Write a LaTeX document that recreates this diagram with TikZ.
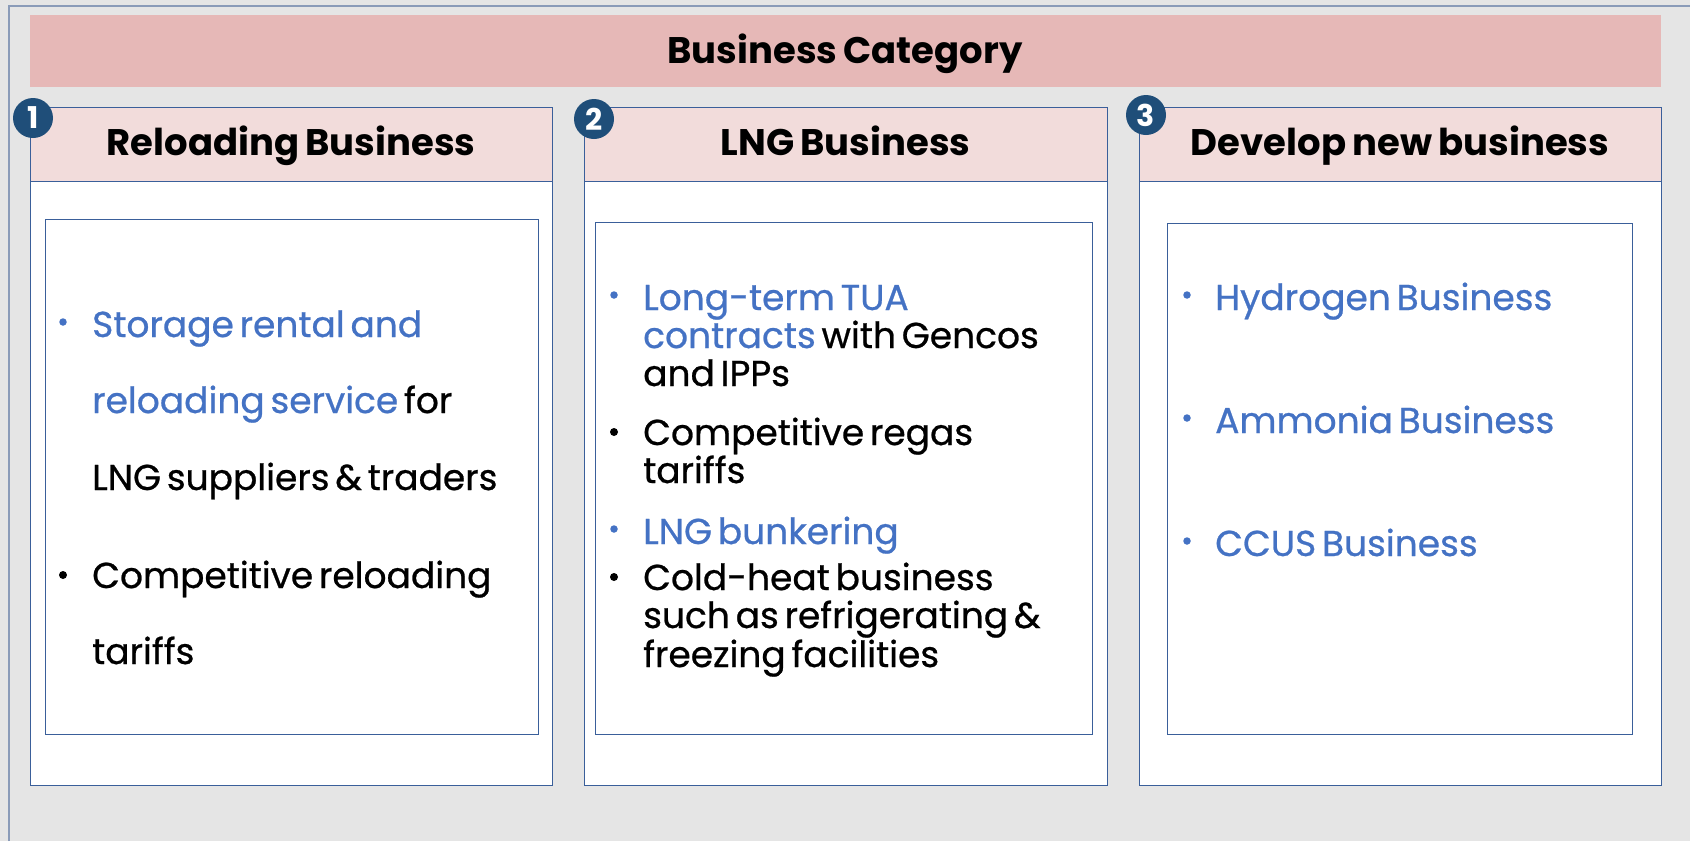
\documentclass[tikz,border=0pt]{standalone}
\usepackage{fontspec}
\setmainfont{Poppins}[WordSpace=0.8]
\newfontfamily\bodyfont{Poppins}[WordSpace=0.6, FakeBold=0.7]
\definecolor{bg}{HTML}{E5E5E5}
\definecolor{frameline}{HTML}{8A9BB8}
\definecolor{boxline}{HTML}{3A5F9A}
\definecolor{banner}{HTML}{E6B8B7}
\definecolor{headfill}{HTML}{F2DCDB}
\definecolor{txtblue}{HTML}{4472C4}
\definecolor{badge}{HTML}{1F4E79}
\tikzset{
  outerbox/.style={draw=boxline, line width=1.3pt, fill=white, anchor=north west, inner sep=0pt},
  headbox/.style={draw=boxline, line width=1.3pt, fill=headfill, anchor=north west, inner sep=0pt},
  innerbox/.style={draw=boxline, line width=1.3pt, fill=white, anchor=north west, inner sep=0pt},
  headtxt/.style={anchor=base, inner sep=0pt, font=\fontsize{37}{40}\selectfont\bfseries},
  bodytxt/.style={anchor=base west, inner sep=0pt, font=\bodyfont\fontsize{36}{40}\selectfont},
  bluetxt/.style={bodytxt, text=txtblue},
  bulb/.style={circle, fill=txtblue, inner sep=0pt, minimum size=7.5pt},
  bulk/.style={circle, fill=black, inner sep=0pt, minimum size=8pt},
  badgestyle/.style={circle, fill=badge, text=white, inner sep=0pt, minimum size=40pt, font=\fontsize{30}{30}\selectfont\bfseries},
}
\begin{document}
\begin{tikzpicture}[x=1pt,y=-1pt]
\useasboundingbox (0,0) rectangle (1690,841);
\fill[bg] (0,0) rectangle (1690,841);
\draw[frameline, line width=2pt] (9,841) -- (9,6) -- (1690,6);
% banner
\node[fill=banner, anchor=north west, inner sep=0pt, minimum width=1631pt, minimum height=72pt] (banner) at (30,15) {};
\node[headtxt] (bannertxt) at (845,63) {Business Category};
% column boxes
\node[outerbox, minimum width=522pt, minimum height=678pt] (box1) at (30,107) {};
\node[outerbox, minimum width=523pt, minimum height=678pt] (box2) at (584,107) {};
\node[outerbox, minimum width=522pt, minimum height=678pt] (box3) at (1139,107) {};
\node[headbox, minimum width=522pt, minimum height=74pt] (head1) at (30,107) {};
\node[headbox, minimum width=523pt, minimum height=74pt] (head2) at (584,107) {};
\node[headbox, minimum width=522pt, minimum height=74pt] (head3) at (1139,107) {};
\node[headtxt] (head1txt) at (291,155) {Reloading Business};
\node[headtxt] (head2txt) at (845.5,155) {LNG Business};
\node[headtxt] (head3txt) at (1400,155) {Develop new business};
\node[innerbox, minimum width=493pt, minimum height=515pt] (in1) at (45,219) {};
\node[innerbox, minimum width=497pt, minimum height=512pt] (in2) at (595,222) {};
\node[innerbox, minimum width=465pt, minimum height=511pt] (in3) at (1167,223) {};
% badges
\node[badgestyle] (badge1) at (33,118) {1};
\node[badgestyle] (badge2) at (594,119) {2};
\node[badgestyle] (badge3) at (1146,115) {3};
% column 1 text
\node[bulb] (c1b1) at (63,322) {};
\node[bluetxt] (c1l1) at (92,337) {Storage rental and};
\node[bodytxt] (c1l2) at (92,413) {\textcolor{txtblue}{reloading service} for};
\node[bodytxt] (c1l3) at (92,490) {LNG suppliers \& traders};
\node[bulk] (c1b2) at (63,575) {};
\node[bodytxt] (c1l4) at (92,588) {Competitive reloading};
\node[bodytxt] (c1l5) at (92,664) {tariffs};
% column 2 text
\node[bulb] (c2b1) at (614,295) {};
\node[bluetxt] (c2l1) at (643,310) {Long-term TUA};
\node[bodytxt] (c2l2) at (643,348) {\textcolor{txtblue}{contracts} with Gencos};
\node[bodytxt] (c2l3) at (643,386) {and IPPs};
\node[bulk] (c2b2) at (614,432) {};
\node[bodytxt] (c2l4) at (643,445) {Competitive regas};
\node[bodytxt] (c2l5) at (643,483) {tariffs};
\node[bulb] (c2b3) at (614,529) {};
\node[bluetxt] (c2l6) at (643,544) {LNG bunkering};
\node[bulk] (c2b4) at (614,577) {};
\node[bodytxt] (c2l7) at (643,590) {Cold-heat business};
\node[bodytxt] (c2l8) at (643,628) {such as refrigerating \&};
\node[bodytxt] (c2l9) at (643,667) {freezing facilities};
% column 3 text
\node[bulb] (c3b1) at (1187,295) {};
\node[bluetxt] (c3l1) at (1215,310) {Hydrogen Business};
\node[bulb] (c3b2) at (1187,418) {};
\node[bluetxt] (c3l2) at (1215,433) {Ammonia Business};
\node[bulb] (c3b3) at (1187,541) {};
\node[bluetxt] (c3l3) at (1215,556) {CCUS Business};
\end{tikzpicture}
\end{document}
